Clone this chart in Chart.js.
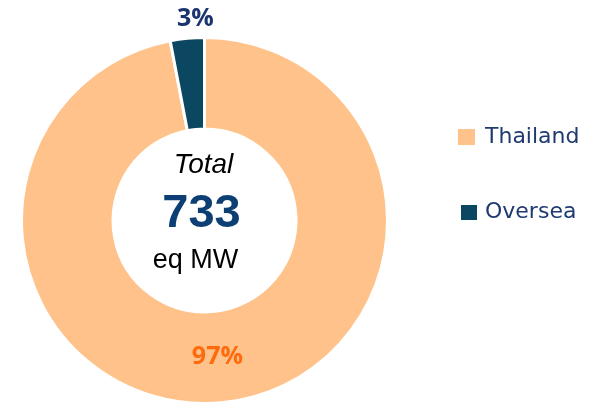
<!DOCTYPE html>
<html lang="en">
<head>
  <meta charset="UTF-8" />
  <title>Capacity by region</title>
  <script src="https://cdn.jsdelivr.net/npm/chart.js"></script>
  <style>
    html, body { margin: 0; padding: 0; background: #fff; }
    #wrap { width: 590px; height: 405px; position: relative; }
  </style>
</head>
<body>
<div id="wrap"><canvas id="mixChart"></canvas></div>
<script>
// data
const regions = ["Thailand", "Oversea"];
const capacityMW = [711, 22];
const pctLabels = ["97%", "3%"];
const sliceColors = ["#FEC28A", "#0B4760"];
const labelColors = ["#FF6A0D", "#1B3470"];

const totalMW = capacityMW.reduce((a, b) => a + b, 0);

// percent labels + center text + legend, drawn on top of the doughnut
const overlay = {
  id: 'overlay',
  afterDraw(chart) {
    const ctx = chart.ctx;
    const arcs = chart.getDatasetMeta(0).data;
    ctx.save();
    ctx.textAlign = 'center';
    ctx.textBaseline = 'middle';

    arcs.forEach((arc, i) => {
      const p = arc.getProps(['x', 'y', 'startAngle', 'endAngle', 'innerRadius', 'outerRadius'], true);
      const mid = (p.startAngle + p.endAngle) / 2;
      // big slice gets its label inside the ring, small one outside
      const r = i === 0 ? (p.innerRadius + p.outerRadius) / 2 : p.outerRadius + 20;
      ctx.font = 'bold 25px "Open Sans", sans-serif';
      ctx.fillStyle = labelColors[i];
      ctx.fillText(pctLabels[i], p.x + Math.cos(mid) * r + (i === 0 ? 0 : 10), p.y + Math.sin(mid) * r);
    });

    // centre
    const c = arcs[0];
    const cx = c.x, cy = c.y;
    ctx.textBaseline = 'alphabetic';
    ctx.fillStyle = '#000';
    ctx.font = 'italic 28px "Liberation Sans", Arial, sans-serif';
    ctx.fillText('Total', cx - 1, 173);
    ctx.fillStyle = '#0D3F74';
    ctx.font = 'bold 47px "Liberation Sans", Arial, sans-serif';
    ctx.fillText(String(totalMW), cx - 3, 227);
    ctx.fillStyle = '#000';
    ctx.font = '27px "Liberation Sans", Arial, sans-serif';
    ctx.fillText('eq MW', cx - 9, 268);

    // legend
    ctx.textAlign = 'left';
    const legendY = [137, 212];
    regions.forEach((name, i) => {
      ctx.fillStyle = sliceColors[i];
      if (i === 0) ctx.fillRect(458, legendY[i] - 8, 17, 16);
      else ctx.fillRect(461, legendY[i] - 7, 16, 15);
      ctx.fillStyle = '#1F3A70';
      ctx.font = '22px "DejaVu Sans", sans-serif';
      ctx.textBaseline = 'middle';
      ctx.fillText(name, 485, legendY[i]);
    });
    ctx.restore();
  }
};

new Chart(document.getElementById('mixChart'), {
  type: 'doughnut',
  data: {
    labels: regions,
    datasets: [{
      data: capacityMW,
      backgroundColor: sliceColors,
      borderColor: '#fff',
      borderWidth: 3
    }]
  },
  options: {
    responsive: true,
    maintainAspectRatio: false,
    animation: false,
    cutout: '50%',
    layout: { padding: { left: 20, right: 201, top: 36, bottom: 0 } },
    plugins: {
      legend: { display: false },
      tooltip: { enabled: false }
    }
  },
  plugins: [overlay]
});
</script>
</body>
</html>
